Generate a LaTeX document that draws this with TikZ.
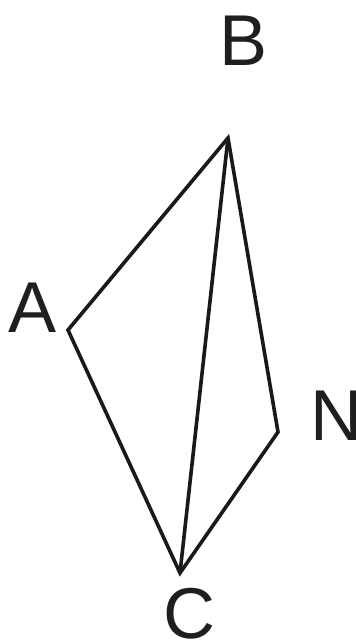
\documentclass[tikz,border=0pt]{standalone}
\usepackage{fontspec}
\setmainfont{Liberation Sans}
\usetikzlibrary{positioning}
\tikzset{
  pointlabel/.style={inner sep=0pt, font=\fontsize{72}{72}\selectfont, text=black!88},
  side/.style={draw=black!90, line width=3.6pt, line join=miter},
}

\begin{document}
\begin{tikzpicture}[x=1pt, y=-1pt]
    \useasboundingbox (0,0) rectangle (356,643);
    \coordinate (a) at (68,330);
    \coordinate (b) at (228,138);
    \coordinate (n) at (278,432);
    \coordinate (c) at (180,573);
    \node[pointlabel] (lb) at (244,41)  {B};
    \node[pointlabel] (la) at (33,308)  {A};
    \node[pointlabel] (ln) at (336,416) {N};
    \node[pointlabel] (lc) at (189,614) {C};
    \draw[side] (b) -- (a) -- (c) -- (n) -- cycle;
    \draw[side] (b) -- (c);
  \end{tikzpicture}
\end{document}
